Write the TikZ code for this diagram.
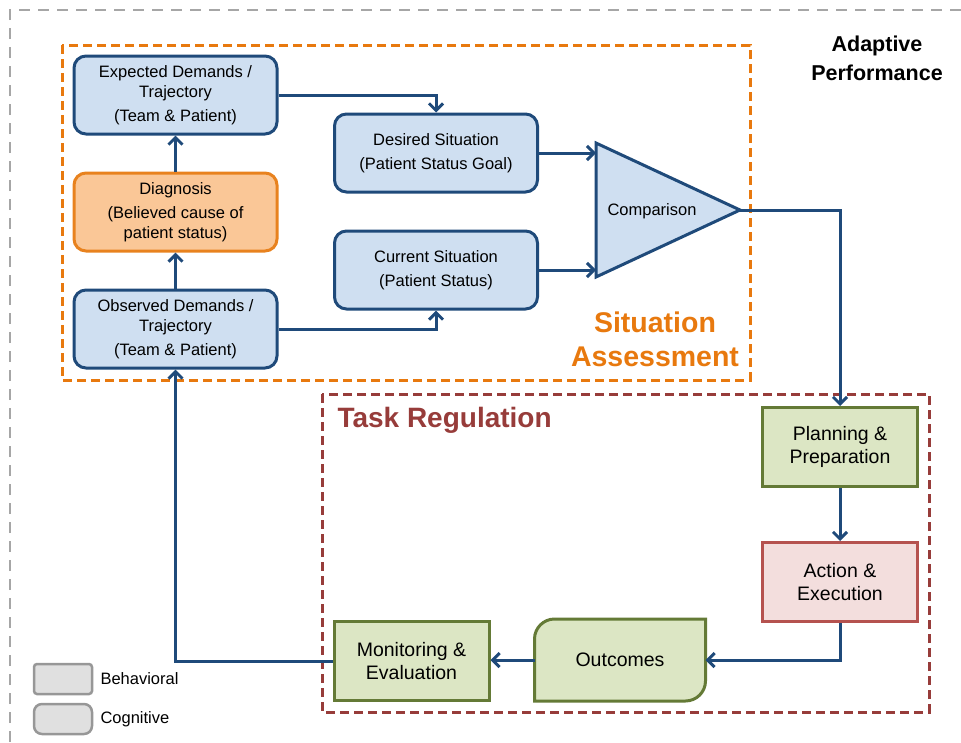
\documentclass[tikz,border=0pt]{standalone}
\usepackage{fontspec}
\setmainfont{Liberation Sans}
\usetikzlibrary{arrows.meta,positioning,calc,backgrounds}

\definecolor{boxblue}{HTML}{CFDFF1}
\definecolor{lineblue}{HTML}{1F4A7A}
\definecolor{diagfill}{HTML}{FAC797}
\definecolor{diagline}{HTML}{E8821E}
\definecolor{gfill}{HTML}{DCE6C4}
\definecolor{gline}{HTML}{647A36}
\definecolor{rfill}{HTML}{F3DEDD}
\definecolor{rline}{HTML}{B5524F}
\definecolor{saorange}{HTML}{E8790E}
\definecolor{trred}{HTML}{973C3A}
\definecolor{framegray}{HTML}{A6A6A6}
\definecolor{legfill}{HTML}{E0E0E0}
\definecolor{legline}{HTML}{979797}

\tikzset{
  cog/.style={draw=lineblue, fill=boxblue, line width=3pt, rounded corners=12pt,
    minimum width=203pt, minimum height=78pt, align=center,
    font=\fontsize{16.5}{20}\selectfont},
  beh/.style={draw=gline, fill=gfill, line width=3pt,
    minimum width=155pt, minimum height=79pt, align=center,
    font=\fontsize{19.5}{23}\selectfont},
  legbox/.style={draw=legline, fill=legfill, line width=2.5pt,
    minimum width=58pt, minimum height=30pt},
  legtext/.style={anchor=west, font=\fontsize{16.5}{20}\selectfont},
  flow/.style={draw=lineblue, line width=3pt,
    -{Straight Barb[length=7pt,width=14pt]}},
}

\begin{document}
\begin{tikzpicture}[x=1pt,y=-1pt]
  \useasboundingbox (0,0) rectangle (961,742);
  \draw[framegray, line width=2.5pt, dash pattern=on 11pt off 8pt]
    (10,780) -- (10,10) -- (1000,10);
  \draw[saorange, line width=3pt, dash pattern=on 9pt off 5pt]
    (62,45) rectangle (750,380);
  \draw[trred, line width=3pt, dash pattern=on 9pt off 5pt]
    (322,394) rectangle (929,712);

  \node[font=\bfseries\fontsize{21.5}{29}\selectfont, align=center] (ap) at (877,58)
    {Adaptive\\Performance};
  \node[font=\bfseries\fontsize{28.5}{34}\selectfont, align=center, text=saorange] (sa)
    at (655,339) {Situation\\Assessment};
  \node[font=\bfseries\fontsize{28}{34}\selectfont, text=trred, anchor=west] (tr)
    at (334,420) {Task Regulation};

  \node[cog] (exp) at (175.5,95) {Expected Demands /\\Trajectory\\[4pt](Team \& Patient)};
  \node[cog, draw=diagline, fill=diagfill] (diag) at (175.5,212)
    {Diagnosis\\[4pt](Believed cause of\\patient status)};
  \node[cog] (obs) at (175.5,329) {Observed Demands /\\Trajectory\\[4pt](Team \& Patient)};
  \node[cog] (des) at (436,153) {Desired Situation\\[4pt](Patient Status Goal)};
  \node[cog] (cur) at (436,270) {Current Situation\\[4pt](Patient Status)};

  \filldraw[draw=lineblue, fill=boxblue, line width=3pt]
    (596,143) coordinate (cmpA) -- (740,210) coordinate (cmpC)
    -- (596,277) coordinate (cmpB) -- cycle;
  \node[font=\fontsize{16.5}{20}\selectfont] (cmp) at (652,211) {Comparison};

  \node[beh] (plan) at (840,447) {Planning \&\\Preparation};
  \node[beh, draw=rline, fill=rfill] (act) at (840,582) {Action \&\\Execution};
  \node[beh, draw=none, fill=none, minimum width=168pt] (out) at (620,660) {Outcomes};
  \node[beh] (mon) at (411.5,661) {Monitoring \&\\Evaluation};
  \begin{scope}[on background layer]
    \filldraw[draw=gline, fill=gfill, line width=3pt]
      (out.south west) -- ($(out.north west)+(0,20)$)
      .. controls ($(out.north west)+(0,9)$) and ($(out.north west)+(9,0)$)
      .. ($(out.north west)+(20,0)$)
      -- (out.north east) -- ($(out.south east)+(0,-20)$)
      .. controls ($(out.south east)+(0,-9)$) and ($(out.south east)+(-9,0)$)
      .. ($(out.south east)+(-20,0)$) -- cycle;
  \end{scope}

  \node[legbox, rounded corners=3pt] (lbeh) at (63,679) {};
  \node[legtext] (tbeh) at (97,679) {Behavioral};
  \node[legbox, rounded corners=8pt] (lcog) at (63,719) {};
  \node[legtext] (tcog) at (97,719) {Cognitive};

  \draw[flow] (obs.north) -- (diag.south);
  \draw[flow] (diag.north) -- (exp.south);
  \draw[flow] (exp.east) -| (des.north);
  \draw[flow] (obs.east) -| (cur.south);
  \draw[flow] (des.east) -- (des.east -| cmpA);
  \draw[flow] (cur.east) -- (cur.east -| cmpA);
  \draw[flow] (cmpC) -| (plan.north);
  \draw[flow] (plan.south) -- (act.north);
  \draw[flow] (act.south) |- (out.east);
  \draw[flow] (out.west) -- (out.west -| mon.east);
  \draw[flow] (mon.west) -| (obs.south);
\end{tikzpicture}
\end{document}
